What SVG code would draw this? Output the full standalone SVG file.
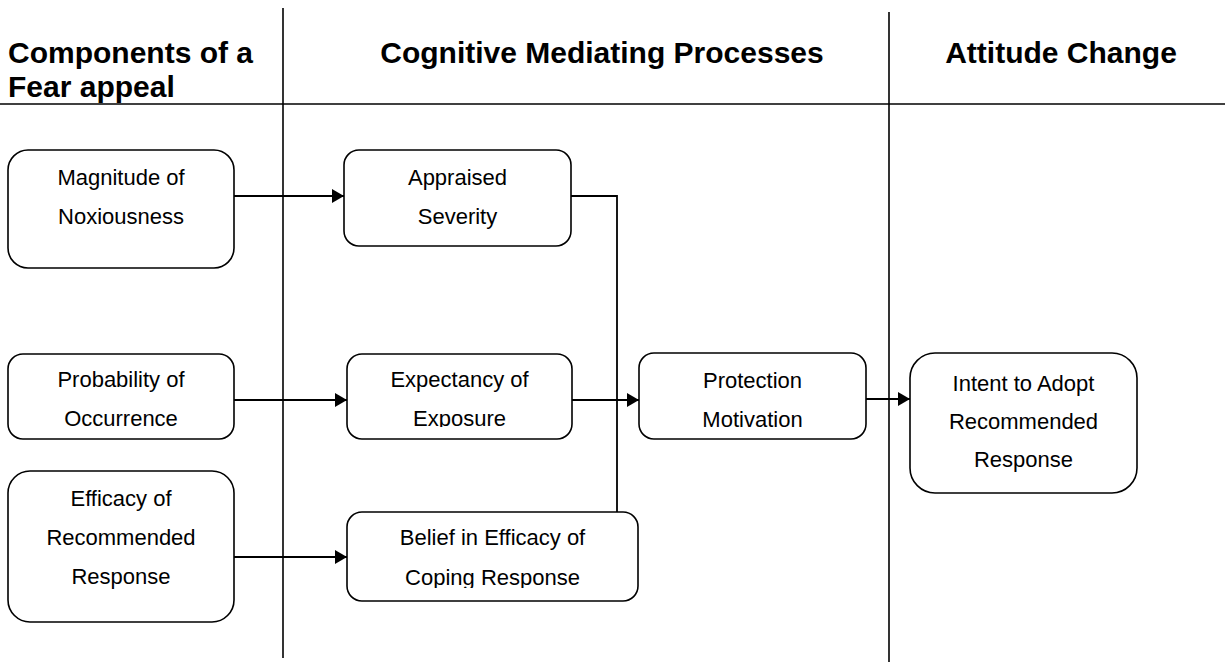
<svg xmlns="http://www.w3.org/2000/svg" width="1225" height="663" viewBox="0 0 1225 663">
  <style>
    .hdr { font-family: "Liberation Sans", Arial, sans-serif; font-weight: bold; font-size: 30px; fill: #000; }
    .lbl { font-family: "Liberation Sans", Arial, sans-serif; font-size: 22px; fill: #000; text-anchor: middle; }
    .box { fill: #fff; stroke: #000; stroke-width: 1.6; }
    .rule { stroke: #000; stroke-width: 1.6; fill: none; }
    .wire { stroke: #000; stroke-width: 1.8; fill: none; }
  </style>
  <defs>
    <marker id="arrow" viewBox="0 0 12 14" refX="12" refY="7" markerWidth="12" markerHeight="14" markerUnits="userSpaceOnUse" orient="auto">
      <path d="M0,0 L12,7 L0,14 Z" fill="#000"/>
    </marker>
    <clipPath id="clipExposure"><rect x="347" y="354" width="225" height="73"/></clipPath>
    <clipPath id="clipCoping"><rect x="347" y="512" width="291" height="76"/></clipPath>
  </defs>
  <rect width="1225" height="663" fill="#fff"/>

  <!-- column headings and dividers -->
  <g id="headings">
    <text class="hdr" x="8" y="63">Components of a</text>
    <text class="hdr" x="8" y="97">Fear appeal</text>
    <text class="hdr" x="602" y="63" text-anchor="middle">Cognitive Mediating Processes</text>
    <text class="hdr" x="1061" y="63" text-anchor="middle">Attitude Change</text>
    <line class="rule" x1="0" y1="104" x2="1225" y2="104"/>
    <line class="rule" x1="283" y1="8" x2="283" y2="658"/>
    <line class="rule" x1="889" y1="12" x2="889" y2="662"/>
  </g>

  <!-- connectors -->
  <g id="connectors">
    <line class="wire" x1="234" y1="196" x2="344" y2="196" marker-end="url(#arrow)"/>
    <line class="wire" x1="234" y1="400" x2="347" y2="400" marker-end="url(#arrow)"/>
    <line class="wire" x1="234" y1="557" x2="347" y2="557" marker-end="url(#arrow)"/>
    <polyline class="wire" points="571,196 617,196 617,512"/>
    <line class="wire" x1="572" y1="400" x2="639" y2="400" marker-end="url(#arrow)"/>
    <line class="wire" x1="866" y1="399" x2="910" y2="399" marker-end="url(#arrow)"/>
  </g>

  <g id="magnitude">
    <rect class="box" x="8" y="150" width="226" height="118" rx="20"/>
    <text class="lbl" x="121" y="185">Magnitude of</text>
    <text class="lbl" x="121" y="224">Noxiousness</text>
  </g>

  <g id="probability">
    <rect class="box" x="8" y="354" width="226" height="85" rx="15"/>
    <text class="lbl" x="121" y="387">Probability of</text>
    <text class="lbl" x="121" y="426">Occurrence</text>
  </g>

  <g id="efficacy">
    <rect class="box" x="8" y="471" width="226" height="151" rx="22"/>
    <text class="lbl" x="121" y="506">Efficacy of</text>
    <text class="lbl" x="121" y="545">Recommended</text>
    <text class="lbl" x="121" y="584">Response</text>
  </g>

  <g id="appraised">
    <rect class="box" x="344" y="150" width="227" height="96" rx="15"/>
    <text class="lbl" x="457.5" y="185">Appraised</text>
    <text class="lbl" x="457.5" y="224">Severity</text>
  </g>

  <g id="expectancy">
    <rect class="box" x="347" y="354" width="225" height="85" rx="15"/>
    <text class="lbl" x="459.5" y="387">Expectancy of</text>
    <text class="lbl" x="459.5" y="426" clip-path="url(#clipExposure)">Exposure</text>
  </g>

  <g id="belief">
    <rect class="box" x="347" y="512" width="291" height="89" rx="15"/>
    <text class="lbl" x="492.5" y="545">Belief in Efficacy of</text>
    <text class="lbl" x="492.5" y="585" clip-path="url(#clipCoping)">Coping Response</text>
  </g>

  <g id="protection">
    <rect class="box" x="639" y="353" width="227" height="86" rx="15"/>
    <text class="lbl" x="752.5" y="388">Protection</text>
    <text class="lbl" x="752.5" y="427">Motivation</text>
  </g>

  <g id="intent">
    <rect class="box" x="910" y="353" width="227" height="140" rx="25"/>
    <text class="lbl" x="1023.5" y="391">Intent to Adopt</text>
    <text class="lbl" x="1023.5" y="429">Recommended</text>
    <text class="lbl" x="1023.5" y="467">Response</text>
  </g>
</svg>
